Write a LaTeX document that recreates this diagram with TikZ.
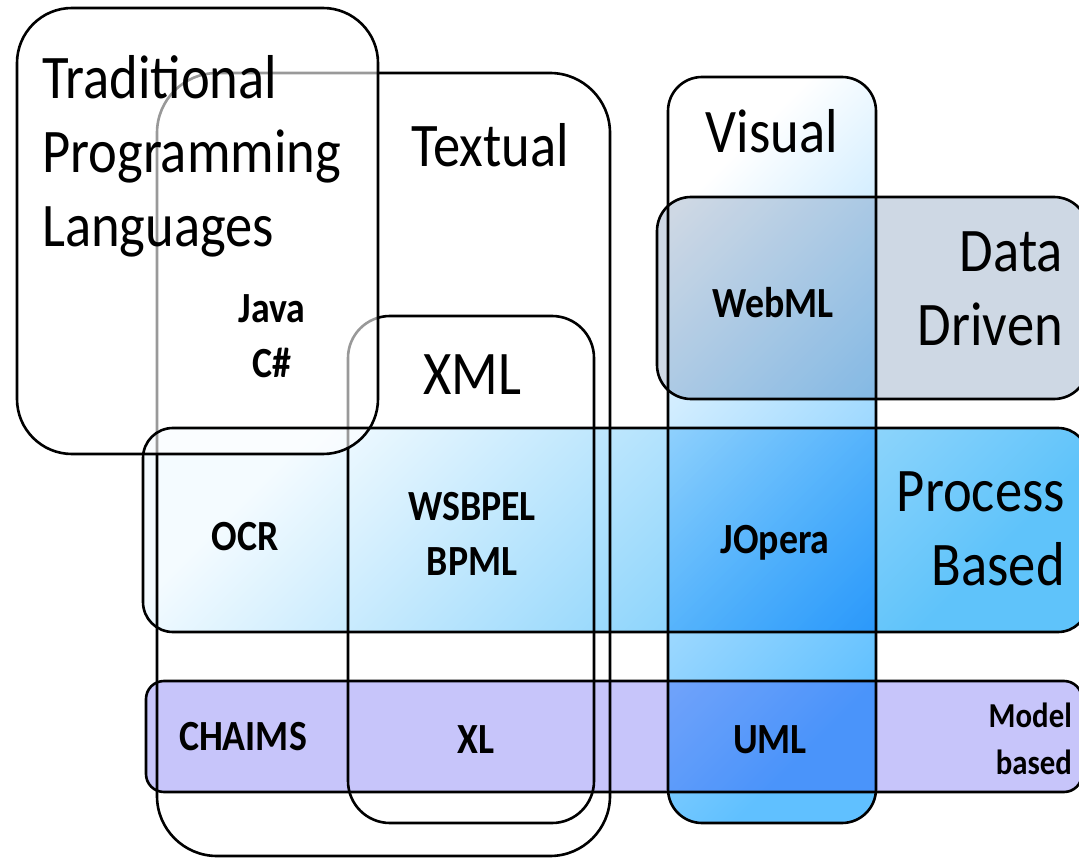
\documentclass[tikz,border=0pt]{standalone}
\usepackage{fontspec}
\setmainfont[FakeStretch=0.88]{Carlito}
\definecolor{datagray}{RGB}{206,216,228}
\definecolor{procblue}{RGB}{95,195,250}
\definecolor{procpale}{RGB}{244,251,255}
\definecolor{modelviolet}{RGB}{199,197,250}
\definecolor{visblue}{RGB}{96,192,255}
\tikzset{
  frame/.style={line width=2.6pt, rounded corners=#1},
  bigword/.style={inner sep=0pt, font=\fontsize{62}{74}\selectfont},
  tool/.style={inner sep=0pt, align=center, font=\bfseries\fontsize{43}{55}\selectfont}
}
\begin{document}
\begin{tikzpicture}[x=1pt,y=-1pt]
  \useasboundingbox (0,0) rectangle (1079,858);
  \clip (0,0) rectangle (1079,858);

  % bands
  \fill[datagray,rounded corners=34pt] (657,197) rectangle (1088,399);
  \shade[rounded corners=30pt,left color=procpale,right color=procblue,shading angle=45] (143,428) rectangle (1088,632);
  \fill[modelviolet,rounded corners=18pt] (146,681) rectangle (1082,792);
  \begin{scope}[blend mode=multiply]
    \shade[rounded corners=34pt,left color=white,right color=visblue,shading angle=45] (668,77) rectangle (876,823);
  \end{scope}

  % textual and xml
  \draw[frame=60pt] (157,73) rectangle (610,856);
  \draw[frame=42pt] (348,316) rectangle (594,823);

  % traditional languages
  \draw[frame=55pt,fill=white,fill opacity=.6] (17,8) rectangle (378,454);

  \draw[frame=34pt] (657,197) rectangle (1088,399);
  \draw[frame=30pt] (143,428) rectangle (1088,632);
  \draw[frame=18pt] (146,681) rectangle (1082,792);
  \draw[frame=34pt] (668,77) rectangle (876,823);

  \node[bigword,align=left,anchor=north west] (trad) at (42,55) {Traditional\\Programming\\Languages};
  \node[bigword,anchor=base] (textual) at (490,167) {Textual};
  \node[bigword,anchor=base] (xml) at (472,395) {XML};
  \node[bigword,anchor=base] (visual) at (772,153) {Visual};
  \node[bigword,align=right,anchor=north east] (data) at (1063,232) {Data\\Driven};
  \node[bigword,align=right,anchor=north east] (process) at (1065,472) {Process\\Based};
  \node[tool,align=right,anchor=north east,font=\bfseries\fontsize{35}{47}\selectfont] (model) at (1072,703) {Model\\based};

  \node[tool] (java) at (272,336) {Java\\C\#};
  \node[tool,anchor=base] (webml) at (773,318) {WebML};
  \node[tool,anchor=base] (ocr) at (245,550) {OCR};
  \node[tool] (wsbpel) at (472,534) {WSBPEL\\BPML};
  \node[tool,anchor=base] (jopera) at (775,553) {JOpera};
  \node[tool,anchor=base] (chaims) at (243,750) {CHAIMS};
  \node[tool,anchor=base] (xl) at (476,753) {XL};
  \node[tool,anchor=base] (uml) at (770,753) {UML};
\end{tikzpicture}
\end{document}
